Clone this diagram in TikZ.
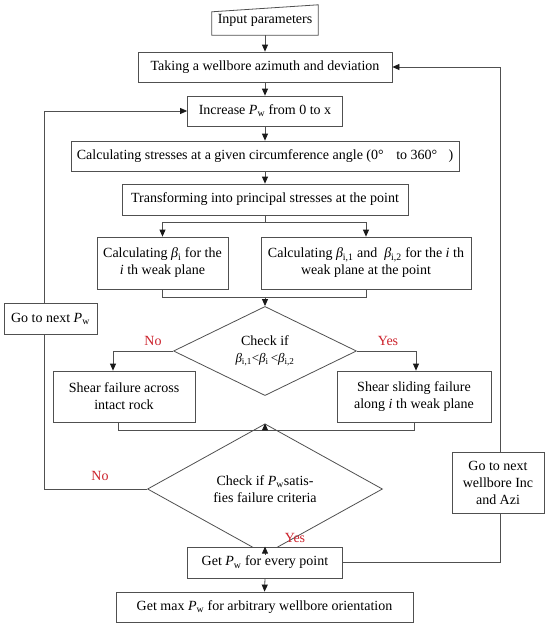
\documentclass[tikz,border=0pt]{standalone}
\usepackage{fontspec}
\setmainfont{Liberation Serif}
\usetikzlibrary{arrows.meta,shapes.geometric,calc}
\definecolor{lnc}{RGB}{80,80,80}
\definecolor{lbl}{RGB}{205,35,45}
\newcommand{\Pw}{\textit{P}\textsubscript{w}}
\newcommand{\bt}[1]{\textit{β}\textsubscript{#1}}
\begin{document}
\begin{tikzpicture}[x=1pt,y=-1pt,
  font=\fontsize{14}{17}\selectfont,
  box/.style={draw=lnc, line width=0.8pt, fill=white, inner sep=0pt, align=center, text=black},
  dia/.style={draw=lnc, line width=0.8pt, diamond, inner sep=0pt, align=center, fill=white},
  arr/.style={draw=lnc, line width=0.8pt, -{Triangle[length=7pt,width=6pt,color=black!90]}},
  ln/.style={draw=lnc, line width=0.8pt},
  lab/.style={text=lbl, inner sep=0pt}]
\useasboundingbox[fill=white] (0,0) rectangle (550,627);

% nodes
\node[inner sep=0pt, minimum width=106pt, minimum height=30pt] (input) at (265,20) {Input parameters};
\draw[ln] (input.south west) -- (input.south east) -- (input.north east) -- ([yshift=-7pt]input.north west) -- cycle;
\node[box, minimum width=254pt, minimum height=30pt] (take) at (265,67) {Taking a wellbore azimuth and deviation};
\node[box, minimum width=155pt, minimum height=30pt] (inc) at (265,111) {Increase \Pw{} from 0 to x};
\node[box, minimum width=388pt, minimum height=30pt] (calc) at (265,156) {Calculating stresses at a given circumference angle (0°\hspace{0.9em}to 360°\hspace{0.8em})};
\node[box, minimum width=286pt, minimum height=31pt] (trans) at (265,199.5) {Transforming into principal stresses at the point};
\node[box, minimum width=131pt, minimum height=52pt] (beta1) at (162.5,263) {Calculating \bt{i} for the\\\textit{i} th weak plane};
\node[box, minimum width=210pt, minimum height=52pt] (beta2) at (366,263) {Calculating \bt{i,1} and\ \ \bt{i,2} for the \textit{i} th\\weak plane at the point};
\node[dia, minimum width=183pt, minimum height=84pt] (dia1) at (265,351) {Check if\\{\fontsize{13}{16}\selectfont \bt{i,1}<\bt{i}\,<\bt{i,2}}};
\node[box, minimum width=142pt, minimum height=51pt] (shear1) at (124,396.5) {Shear failure across\\intact rock};
\node[box, minimum width=154pt, minimum height=51pt] (shear2) at (414,396.5) {Shear sliding failure\\along \textit{i} th weak plane};
\node[dia, minimum width=235pt, minimum height=92pt] (dia2) at (265,489) {Check if \Pw{}satis-\\fies failure criteria};
\node[box, minimum width=155pt, minimum height=31pt] (getpw) at (265,562.5) {Get \Pw{} for every point};
\node[box, minimum width=297pt, minimum height=30pt] (getmax) at (264.5,607) {Get max \Pw{} for arbitrary wellbore orientation};
\node[box, minimum width=93pt, minimum height=31pt] (gonext) at (50.5,318.5) {Go to next \Pw};
\node[box, minimum width=92pt, minimum height=61pt] (gonext2) at (498,482.5) {Go to next\\wellbore Inc\\and Azi};

% labels
\node[lab] (no1) at (153,341) {No};
\node[lab] (yes1) at (388,341) {Yes};
\node[lab] (no2) at (100,476) {No};
\node[lab] (yes2) at (295,538) {Yes};

% coordinates
\coordinate (s1) at (265,222);
\coordinate (j1) at (265,297);
\coordinate (j2) at (265,430);

% connectors
\draw[arr] (input.south) -- (take.north);
\draw[arr] (take.south) -- (inc.north);
\draw[arr] (inc.south) -- (calc.north);
\draw[arr] (calc.south) -- (trans.north);
\draw[ln] (trans.south) -- (s1);
\draw[arr] (s1) -| (beta1.north);
\draw[arr] (s1) -| (beta2.north);
\draw[ln] (beta1.south) |- (j1);
\draw[ln] (beta2.south) |- (j1);
\draw[arr] (j1) -- (dia1.north);
\draw[arr] (dia1.west) -| ([xshift=-11pt]shear1.north);
\draw[arr] (dia1.east) -| ([xshift=2pt]shear2.north);
\draw[ln] ([xshift=-6pt]shear1.south) |- (j2);
\draw[ln] (shear2.south) |- (j2);
\draw[arr] (j2) -- (dia2.north);
\draw[arr] (dia2.south) -- (getpw.north);
\draw[arr] (getpw.south) -- (getmax.north);
\draw[ln] (dia2.west) -| ([xshift=-6.5pt]gonext.south);
\draw[arr] ([xshift=-6.5pt]gonext.north) |- (inc.west);
\draw[ln] (getpw.east) -| ([xshift=2pt]gonext2.south);
\draw[arr] ([xshift=2pt]gonext2.north) |- (take.east);
\end{tikzpicture}
\end{document}
